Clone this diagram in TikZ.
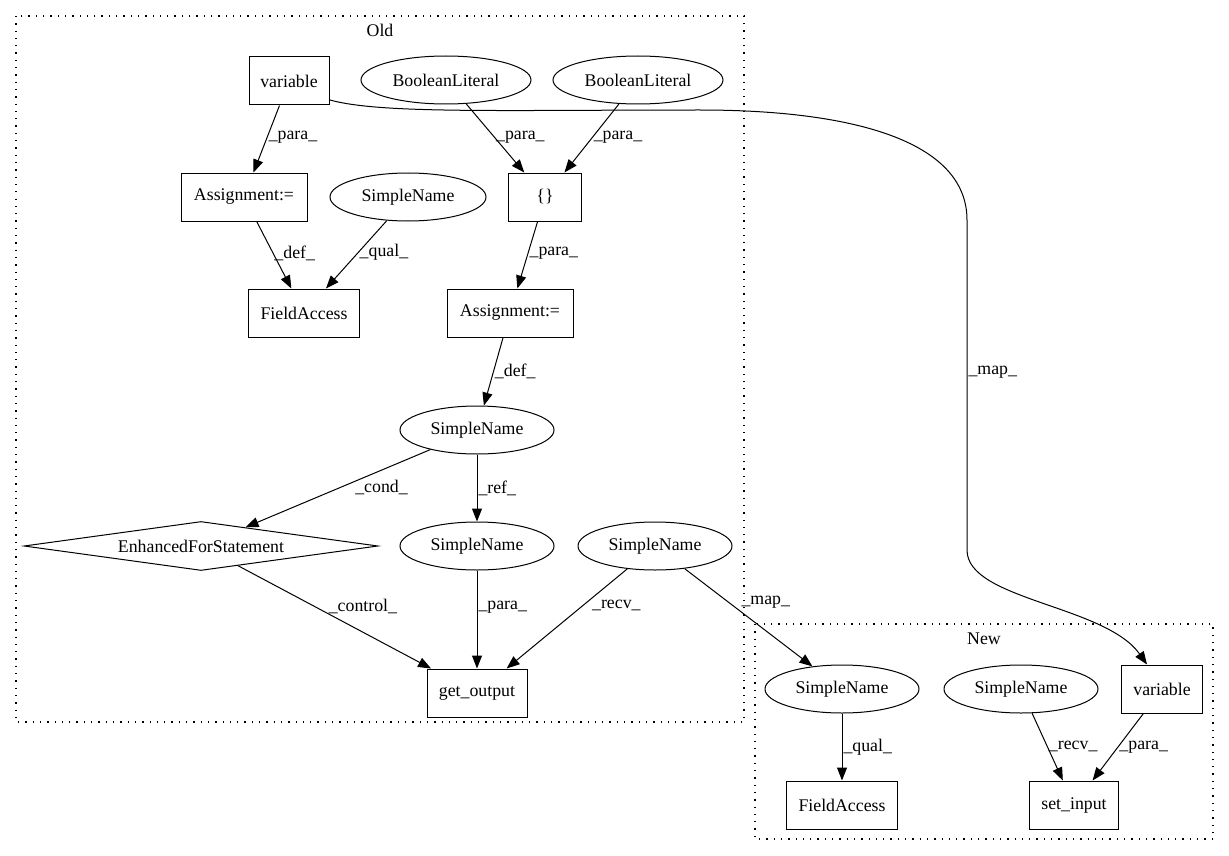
\documentclass[tikz,border=0pt]{standalone}
\usepackage{fontspec}
\setmainfont{Liberation Serif}
\usepackage{xcolor}
\usetikzlibrary{positioning,calc,shapes.geometric,arrows.meta}
\tikzset{
    box/.style={draw, rectangle, minimum height=48pt, inner sep=0pt},
    oval/.style={draw, ellipse, minimum height=48pt, inner sep=0pt},
    loopbox/.style={draw, diamond, aspect=7, inner sep=0pt, minimum width=354pt, minimum height=49pt},
    edge/.style={-{Triangle[length=13pt,width=10pt]}},
    lbl/.style={anchor=west, inner sep=1pt},
    cluster/.style={dash pattern=on 1.3pt off 6pt, line width=1.3pt}
}

\begin{document}
\begin{tikzpicture}[x=1pt, y=-1pt, line width=1pt, font=\fontsize{17.8}{21}\selectfont]
    \useasboundingbox (0,0) rectangle (1229,856);

    % Clusters
    \draw[cluster] (16,16) rectangle (744,722);
    \node (oldlbl) at (380,30) {Old};
    \draw[cluster] (755,624) rectangle (1213,839);
    \node (newlbl) at (984,639) {New};

    % Old nodes
    \node[box, minimum width=80pt] (varold) at (289,81) {variable};
    \node[oval, minimum width=170pt] (boolA) at (446,80) {BooleanLiteral};
    \node[oval, minimum width=170pt] (boolB) at (638,80) {BooleanLiteral};
    \node[box, minimum width=126pt] (asgA) at (244,197) {Assignment:=};
    \node[oval, minimum width=156pt] (qualsn) at (408,197) {SimpleName};
    \node[box, minimum width=73pt] (brace) at (545,197) {\{\}};
    \node[box, minimum width=111pt] (faold) at (304,313) {FieldAccess};
    \node[box, minimum width=126pt] (asgB) at (510,313) {Assignment:=};
    \node[oval, minimum width=154pt] (defsn) at (477,430) {SimpleName};
    \node[loopbox] (loop) at (201,546) {EnhancedForStatement};
    \node[oval, minimum width=154pt] (refsn) at (477,546) {SimpleName};
    \node[oval, minimum width=154pt] (recvsn) at (655,546) {SimpleName};
    \node[box, minimum width=100pt] (getout) at (477,693) {get\_output};

    % New nodes
    \node[oval, minimum width=154pt] (mapsn) at (842,689) {SimpleName};
    \node[oval, minimum width=154pt] (recvnew) at (1021,689) {SimpleName};
    \node[box, minimum width=81pt] (varnew) at (1162,689) {variable};
    \node[box, minimum width=111pt] (fanew) at (842,805) {FieldAccess};
    \node[box, minimum width=89pt] (setin) at (1074,805) {set\_input};

    % Edges
    \draw[edge] (varold) -- node[lbl, pos=.47] {\_para\_} (asgA);
    \draw[edge] (boolA) -- node[lbl, pos=.49] {\_para\_} (brace);
    \draw[edge] (boolB) -- node[lbl, pos=.49] {\_para\_} (brace);
    \draw[edge] (asgA) -- node[lbl, pos=.47] {\_def\_} (faold);
    \draw[edge] (qualsn) -- node[lbl, pos=.47] {\_qual\_} (faold);
    \draw[edge] (brace) -- node[lbl, pos=.47] {\_para\_} (asgB);
    \draw[edge] (asgB) -- node[lbl, pos=.5] {\_def\_} (defsn);
    \draw[edge] (defsn) -- node[lbl, pos=.49, xshift=14pt] {\_cond\_} (loop);
    \draw[edge] (defsn) -- node[lbl, pos=.5] {\_ref\_} (refsn);
    \draw[edge] (loop) -- node[lbl, pos=.4, xshift=12pt] {\_control\_} (getout);
    \draw[edge] (refsn) -- node[lbl, pos=.37] {\_para\_} (getout);
    \draw[edge] (recvsn) -- node[lbl, pos=.37, xshift=8pt] {\_recv\_} (getout);
    \draw[edge] (recvsn) -- node[lbl, pos=.34, xshift=12pt] {\_map\_} (mapsn);
    \draw[edge] (mapsn) -- node[lbl, pos=.5] {\_qual\_} (fanew);
    \draw[edge] (recvnew) -- node[lbl, pos=.5] {\_recv\_} (setin);
    \draw[edge] (varnew) -- node[lbl, pos=.5] {\_para\_} (setin);

    % Mapping between the two variables
    \draw[edge] (varold.-25) .. controls (380,114) and (500,110) .. (700,110)
        .. controls (850,110) and (967,140) .. (967,220)
        -- node[lbl, pos=.46] {\_map\_} (967,550)
        .. controls (967,600) and (1105,605) .. ([xshift=-15pt]varnew.north);
\end{tikzpicture}
\end{document}
